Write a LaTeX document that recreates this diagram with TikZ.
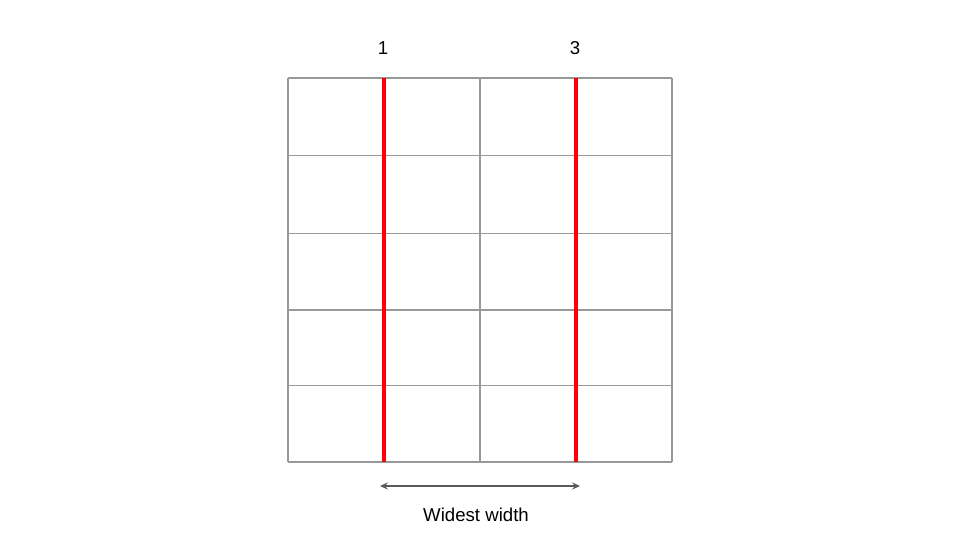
\documentclass[tikz,border=0pt]{standalone}
\usepackage{fontspec}
\setmainfont{Liberation Sans}
\usepackage{tikz}
\usetikzlibrary{arrows.meta,positioning}

\begin{document}
\begin{tikzpicture}[x=0.01cm,y=-0.01cm,>=Stealth,
 cell/.style={draw=gray!80,line width=0.3pt},
 cut/.style={draw=red,line width=1.15pt},
 lbl/.style={font=\fontsize{5.3pt}{6pt}\selectfont,inner sep=0pt}]
\useasboundingbox (0,0) rectangle (960,540);
\foreach \y in {78,155.6,233.2,310,385.6,462}
 \draw[cell] (288,\y)--(672,\y);
\foreach \x in {288,480,672}
 \draw[cell] (\x,78)--(\x,462);
\draw[cut] (384,78)--(384,462);
\draw[cut] (576,78)--(576,462);
\node[lbl] (one) at (383,48) {1};
\node[lbl] (three) at (575,48) {3};
\coordinate (wl) at (380,486);
\coordinate (wr) at (580,486);
\draw[<->,draw=black!65,line width=0.3pt,>={Stealth[length=2.2pt,width=2pt]}] (wl)--(wr);
\node[lbl] (widest) at (476,515) {Widest width};
\end{tikzpicture}
\end{document}
